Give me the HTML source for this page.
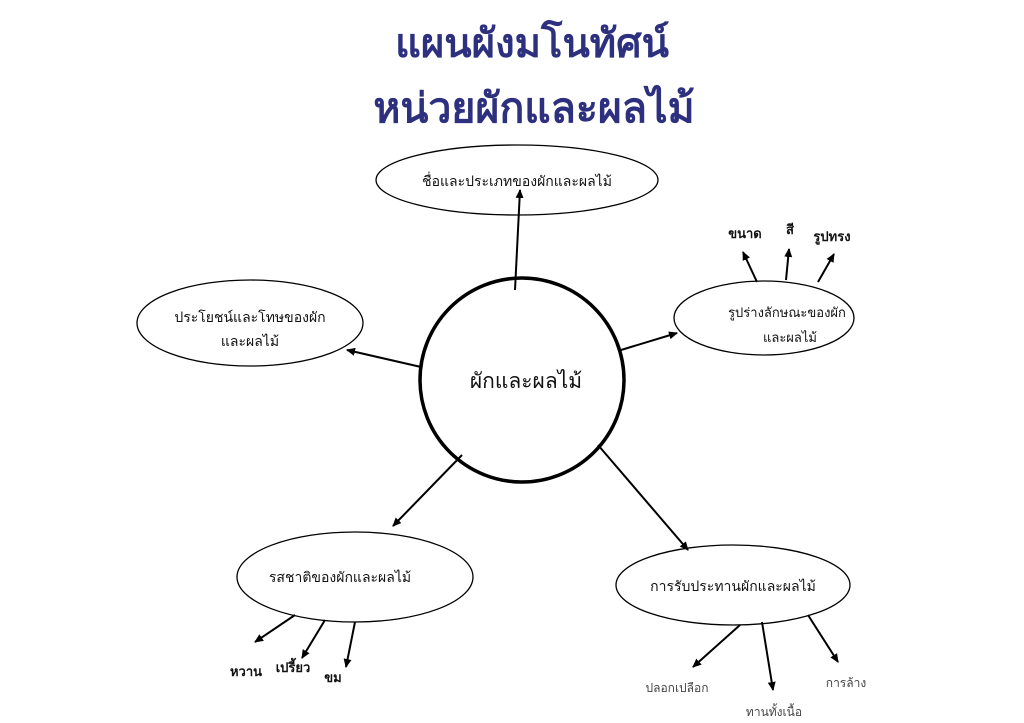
<!DOCTYPE html>
<html><head><meta charset="utf-8"><style>
html,body{margin:0;padding:0;background:#fff;width:1024px;height:723px;overflow:hidden}
svg{display:block}
text{font-family:"Liberation Sans","DejaVu Sans","Noto Sans CJK SC",sans-serif;text-anchor:middle;fill:#111}
</style></head><body>
<svg width="1024" height="723" viewBox="0 0 1024 723" xmlns="http://www.w3.org/2000/svg">
<defs><marker id="a" markerWidth="10" markerHeight="10" refX="8" refY="5" orient="auto" markerUnits="userSpaceOnUse"><path d="M0,1 L9,5 L0,9 Z" fill="#000"/></marker></defs>
<text x="532" y="57" font-size="40" font-weight="bold" style="fill:#2d2f7f">แผนผังมโนทัศน์</text>
<text x="534" y="122" font-size="41" font-weight="bold" style="fill:#2d2f7f">หน่วยผักและผลไม้</text>
<g fill="none" stroke="#000" stroke-width="1.3">
<ellipse cx="517" cy="180" rx="141" ry="35"/>
<ellipse cx="764" cy="318" rx="90" ry="37"/>
<ellipse cx="250" cy="323" rx="113" ry="43"/>
<ellipse cx="355" cy="577" rx="118" ry="45"/>
<ellipse cx="733" cy="585" rx="117" ry="40"/>
</g>
<circle cx="522" cy="380" r="102" fill="none" stroke="#000" stroke-width="3.5"/>
<g stroke="#000" stroke-width="2" marker-end="url(#a)">
<line x1="515" y1="290" x2="520" y2="190"/>
<line x1="621" y1="350" x2="677" y2="333"/>
<line x1="421" y1="367" x2="347" y2="350"/>
<line x1="462" y1="455" x2="393" y2="526"/>
<line x1="598" y1="445" x2="688" y2="550"/>
<line x1="757" y1="282" x2="743" y2="252"/>
<line x1="786" y1="280" x2="789" y2="249"/>
<line x1="818" y1="282" x2="834" y2="254"/>
<line x1="295" y1="615" x2="255" y2="642"/>
<line x1="325" y1="620" x2="302" y2="658"/>
<line x1="355" y1="622" x2="346" y2="667"/>
<line x1="740" y1="625" x2="693" y2="667"/>
<line x1="762" y1="622" x2="773" y2="690"/>
<line x1="808" y1="615" x2="838" y2="662"/>
</g>
<text x="517" y="186" font-size="14">ชื่อและประเภทของผักและผลไม้</text>
<text x="787" y="317" font-size="13">รูปร่างลักษณะของผัก</text>
<text x="790" y="342" font-size="13">และผลไม้</text>
<text x="250" y="322" font-size="14">ประโยชน์และโทษของผัก</text>
<text x="250" y="346" font-size="14">และผลไม้</text>
<text x="526" y="388" font-size="21">ผักและผลไม้</text>
<text x="340" y="582" font-size="14">รสชาติของผักและผลไม้</text>
<text x="733" y="591" font-size="14">การรับประทานผักและผลไม้</text>
<text x="745" y="238" font-size="13" font-weight="bold">ขนาด</text>
<text x="790" y="234" font-size="13" font-weight="bold">สี</text>
<text x="832" y="241" font-size="13" font-weight="bold">รูปทรง</text>
<text x="246" y="676" font-size="13" font-weight="bold">หวาน</text>
<text x="293" y="672" font-size="13" font-weight="bold">เปรี้ยว</text>
<text x="333" y="682" font-size="13" font-weight="bold">ขม</text>
<text x="677" y="692" font-size="12" style="fill:#444">ปลอกเปลือก</text>
<text x="774" y="716" font-size="12" style="fill:#444">ทานทั้งเนื้อ</text>
<text x="846" y="687" font-size="12" style="fill:#444">การล้าง</text>
</svg>
</body></html>
